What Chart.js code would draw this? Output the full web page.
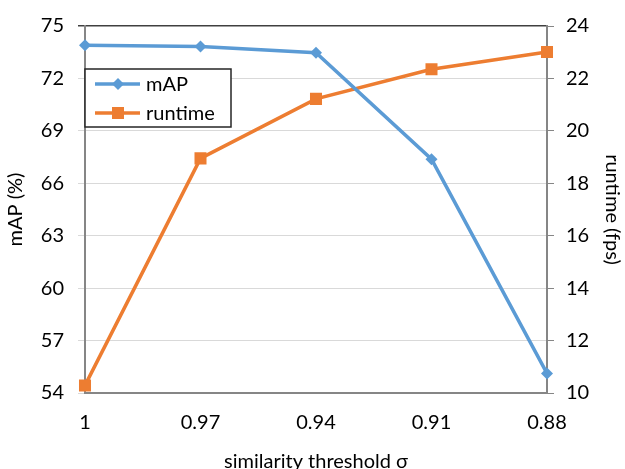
<!DOCTYPE html>
<html>
<head>
<meta charset="utf-8">
<script src="https://cdn.jsdelivr.net/npm/chart.js@4.4.1/dist/chart.umd.min.js"></script>
<style>
  html, body { margin: 0; padding: 0; background: #fff; }
  #wrap { width: 625px; height: 469px; position: relative; }
</style>
</head>
<body>
<div id="wrap"><canvas id="chart" width="625" height="469"></canvas></div>
<script>
const thresholds = ['1', '0.97', '0.94', '0.91', '0.88'];
const mapValues = [73.9, 73.83, 73.47, 67.38, 55.12];
const runtimeValues = [10.29, 18.95, 21.22, 22.35, 23.01];
const leftTicks = [54, 57, 60, 63, 66, 69, 72, 75];
const rightTicks = [10, 12, 14, 16, 18, 20, 22, 24];

const blue = '#5b9bd5';
const orange = '#ed7d31';
const fontFamily = 'Lato, "Open Sans", sans-serif';

// legend box drawn inside the plot, like the original
const boxLegend = {
  id: 'boxLegend',
  afterDraw(chart) {
    const ctx = chart.ctx;
    const x = 85, y = 69, w = 146, h = 58;
    ctx.save();
    ctx.fillStyle = '#fff';
    ctx.fillRect(x, y, w, h);
    ctx.strokeStyle = '#262626';
    ctx.lineWidth = 1.5;
    ctx.strokeRect(x, y, w, h);
    const items = [
      { label: 'mAP', color: blue, style: 'rectRot', r: 6, cy: 84 },
      { label: 'runtime', color: orange, style: 'rect', r: 8.5, cy: 113 }
    ];
    items.forEach(it => {
      ctx.strokeStyle = it.color;
      ctx.lineWidth = 3.5;
      ctx.beginPath();
      ctx.moveTo(95, it.cy);
      ctx.lineTo(140, it.cy);
      ctx.stroke();
      ctx.fillStyle = it.color;
      Chart.helpers.drawPoint(ctx, { pointStyle: it.style, radius: it.r, borderWidth: 0 }, 118, it.cy);
      ctx.fillStyle = '#000';
      ctx.font = '20px ' + fontFamily;
      ctx.textBaseline = 'middle';
      ctx.fillText(it.label, 146, it.cy + 1);
    });
    ctx.restore();
  }
};

new Chart(document.getElementById('chart'), {
  type: 'line',
  data: {
    labels: thresholds,
    datasets: [
      {
        label: 'mAP',
        data: mapValues,
        yAxisID: 'y',
        borderColor: blue,
        backgroundColor: blue,
        borderWidth: 3.5,
        pointStyle: 'rectRot',
        pointRadius: 6,
        pointBorderWidth: 0,
        tension: 0
      },
      {
        label: 'runtime',
        data: runtimeValues,
        yAxisID: 'y1',
        borderColor: orange,
        backgroundColor: orange,
        borderWidth: 3.5,
        pointStyle: 'rect',
        pointRadius: 8.5,
        pointBorderWidth: 0,
        tension: 0
      }
    ]
  },
  options: {
    responsive: false,
    animation: false,
    layout: { padding: { top: 22 } },
    plugins: {
      legend: { display: false },
      tooltip: { enabled: false }
    },
    scales: {
      x: {
        offset: false,
        grid: { display: false, drawTicks: true, tickLength: 7, tickColor: '#868686' },
        border: { color: '#868686', width: 2 },
        ticks: { color: '#000', padding: 11, font: { size: 20, family: fontFamily } },
        title: { display: true, text: 'similarity threshold σ', color: '#000', padding: { top: 4, bottom: -5 },
                 font: { size: 20, family: fontFamily } },
        afterFit(scale) { scale.height = 76; }
      },
      y: {
        position: 'left',
        min: 54,
        max: 75,
        afterBuildTicks(scale) { scale.ticks = leftTicks.map(v => ({ value: v })); },
        grid: {
          color: ctx => ctx.tick && ctx.tick.value === 75 ? '#404040' : '#d9d9d9',
          lineWidth: ctx => ctx.tick && ctx.tick.value === 75 ? 1.5 : 1,
          tickLength: 7
        },
        border: { color: '#868686', width: 2 },
        ticks: { color: '#000', padding: 14, font: { size: 20, family: fontFamily } },
        title: { display: true, text: 'mAP (%)', color: '#000', padding: { top: 4, bottom: 4 },
                 font: { size: 20, family: fontFamily } },
        afterFit(scale) { scale.width = 85; }
      },
      y1: {
        position: 'right',
        min: 10,
        max: 24,
        afterBuildTicks(scale) { scale.ticks = rightTicks.map(v => ({ value: v })); },
        grid: { drawOnChartArea: false, tickLength: 7, color: '#868686' },
        border: { color: '#868686', width: 2 },
        ticks: { color: '#000', padding: 12, font: { size: 20, family: fontFamily } },
        title: { display: true, text: 'runtime (fps)', color: '#000', padding: { top: 1, bottom: 0 },
                 font: { size: 20, family: fontFamily } },
        afterFit(scale) { scale.width = 78; }
      }
    }
  },
  plugins: [boxLegend]
});
</script>
</body>
</html>
